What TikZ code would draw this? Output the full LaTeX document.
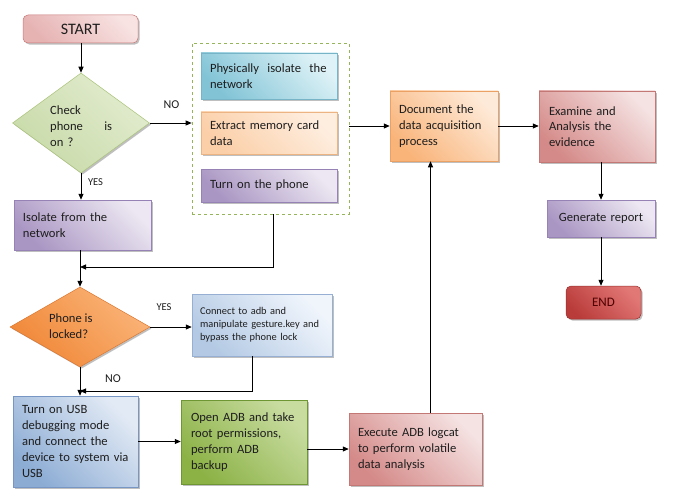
\documentclass[tikz,border=0pt]{standalone}
\usepackage{fontspec}
\setmainfont{Carlito}
\usetikzlibrary{shapes.geometric,arrows.meta,shadows}
\definecolor{txt}{RGB}{30,30,30}
\definecolor{startT}{RGB}{248,226,226}
\definecolor{startB}{RGB}{230,178,178}
\definecolor{startD}{RGB}{200,120,120}
\definecolor{grnT}{RGB}{226,236,207}
\definecolor{grnB}{RGB}{200,218,168}
\definecolor{grnD}{RGB}{170,195,120}
\definecolor{tealT}{RGB}{222,242,247}
\definecolor{tealB}{RGB}{130,196,214}
\definecolor{tealD}{RGB}{120,180,200}
\definecolor{orlT}{RGB}{254,238,224}
\definecolor{orlB}{RGB}{251,207,168}
\definecolor{orlD}{RGB}{235,180,130}
\definecolor{lavT}{RGB}{236,231,242}
\definecolor{lavB}{RGB}{170,150,195}
\definecolor{lavD}{RGB}{150,130,180}
\definecolor{docT}{RGB}{254,234,216}
\definecolor{docB}{RGB}{249,180,122}
\definecolor{docD}{RGB}{235,160,100}
\definecolor{pnkT}{RGB}{245,226,226}
\definecolor{pnkB}{RGB}{212,138,136}
\definecolor{pnkD}{RGB}{195,120,118}
\definecolor{endT}{RGB}{226,120,118}
\definecolor{endB}{RGB}{185,60,58}
\definecolor{endD}{RGB}{150,50,48}
\definecolor{orgT}{RGB}{250,180,120}
\definecolor{orgB}{RGB}{240,135,55}
\definecolor{orgD}{RGB}{220,120,50}
\definecolor{bluT}{RGB}{240,245,252}
\definecolor{bluB}{RGB}{180,202,228}
\definecolor{bluD}{RGB}{150,175,210}
\definecolor{usbT}{RGB}{226,234,245}
\definecolor{usbB}{RGB}{140,172,212}
\definecolor{usbD}{RGB}{120,150,195}
\definecolor{adbT}{RGB}{200,220,160}
\definecolor{adbB}{RGB}{140,178,70}
\definecolor{adbD}{RGB}{110,150,50}
\definecolor{dashc}{RGB}{150,180,90}
\begin{document}
\begin{tikzpicture}[x=1pt,y=-1pt,
  every node/.style={text=txt},
  grad/.style n args={3}{top color=#1, bottom color=#2, shading angle=-45, draw=#3},
  box/.style={rectangle, inner ysep=2pt, align=left, line width=0.5pt,
    font=\fontsize{12.6}{15.8}\selectfont,
    drop shadow={shadow xshift=1.6pt,shadow yshift=-1.6pt,fill=black!45,opacity=0.55}},
  dia/.style={diamond, inner sep=0pt, line width=0.5pt,
    drop shadow={shadow xshift=1.6pt,shadow yshift=-1.6pt,fill=black!45,opacity=0.55}},
  dtext/.style={inner sep=0pt, align=left, font=\fontsize{12.6}{15.8}\selectfont},
  lbl/.style={inner sep=0pt, font=\fontsize{12}{14}\selectfont},
  lbls/.style={inner sep=0pt, font=\fontsize{10.5}{12}\selectfont},
  conn/.style={line width=0.8pt, draw=black},
  arr/.style={conn, -{Triangle[length=6pt,width=5pt]}}
]
\useasboundingbox[fill=white] (0,0) rectangle (678,503);

% nodes
\node[box, grad={startT}{startB}{startD}, rounded corners=5pt, minimum width=115pt, minimum height=28pt,
  align=center, font=\fontsize{16}{18}\selectfont] (start) at (80.5,29) {START};
\node[dia, grad={grnT}{grnB}{grnD}, minimum width=137pt, minimum height=100pt] (d1) at (81,123) {};
\node[dtext, anchor=west, text width=62pt] (d1t) at (50,126) {Check\\phone\hfill is\\on ?};

\node[draw=dashc, dashed, line width=0.7pt, minimum width=157pt, minimum height=171pt, inner sep=0pt] (dbox) at (270.5,128.5) {};
\node[box, grad={tealT}{tealB}{tealD}, minimum width=136pt, minimum height=46pt, text width=118pt, inner xsep=9pt] (phys) at (269,76) {Physically\ \ isolate\ \ the\\network};
\node[box, grad={orlT}{orlB}{orlD}, minimum width=136pt, minimum height=42pt, text width=118pt, inner xsep=9pt] (extr) at (269,133) {Extract memory card\\data};
\node[box, grad={lavT}{lavB}{lavD}, minimum width=136pt, minimum height=33pt, text width=118pt, inner xsep=9pt] (turn) at (269,185.5) {Turn on the phone};

\node[box, grad={lavT}{lavB}{lavD}, minimum width=137pt, minimum height=50pt, text width=119pt, inner xsep=9pt] (iso) at (82.5,225) {Isolate from the\\network};

\node[dia, grad={orgT}{orgB}{orgD}, minimum width=140pt, minimum height=80pt] (d2) at (80,327) {};
\node[dtext, anchor=west] (d2t) at (49,326) {Phone is\\locked?};

\node[box, grad={bluT}{bluB}{bluD}, minimum width=140pt, minimum height=62pt, text width=124pt, inner xsep=8pt,
  font=\fontsize{10.4}{13}\selectfont] (cnx) at (262,325) {Connect to adb and\\manipulate gesture.key and\\bypass the phone lock};

\node[box, grad={usbT}{usbB}{usbD}, minimum width=125pt, minimum height=91pt, text width=107pt, inner xsep=9pt] (usb) at (75.5,441.5)
  {Turn on USB\\debugging mode\\and connect the\\device to system via\\USB};
\node[box, grad={adbT}{adbB}{adbD}, minimum width=126pt, minimum height=84pt, text width=106pt, inner xsep=10pt] (adb) at (244,442)
  {Open ADB and take\\root permissions,\\perform ADB\\backup};
\node[box, grad={pnkT}{pnkB}{pnkD}, minimum width=133pt, minimum height=72pt, text width=115pt, inner xsep=9pt] (exec) at (415.5,449)
  {Execute ADB logcat\\to perform volatile\\data analysis};

\node[box, grad={docT}{docB}{docD}, minimum width=108pt, minimum height=70pt, text width=90pt, inner xsep=9pt] (doc) at (444,126)
  {Document the\\data acquisition\\process};
\node[box, grad={pnkT}{pnkB}{pnkD}, minimum width=116pt, minimum height=71pt, text width=96pt, inner xsep=10pt] (exam) at (597,126.5)
  {Examine and\\Analysis the\\evidence};
\node[box, grad={lavT}{lavB}{lavD}, minimum width=108pt, minimum height=37pt, text width=90pt, inner xsep=9pt, align=center] (gen) at (601,218.5)
  {Generate report};
\node[box, grad={endT}{endB}{endD}, rounded corners=5pt, minimum width=75pt, minimum height=33pt, align=center,
  font=\fontsize{13}{15}\selectfont, text=black!70!red] (end) at (603.5,302.5) {END};

% labels
\node[lbl] (no1) at (171.5,105) {NO};
\node[lbls] (yes1) at (95.5,182) {YES};
\node[lbls] (yes2) at (164,307) {YES};
\node[lbl] (no2) at (113,379) {NO};

% junctions
\coordinate (j1) at (80,267);
\coordinate (j2) at (80,391);

% connectors
\draw[arr] (start.south -| d1.north) -- (d1.north);
\draw[arr] (d1.east) -- (d1.east -| dbox.west);
\draw[arr] (d1.south) -- (d1.south |- iso.north);
\draw[arr] (iso.south -| d2.north) -- (d2.north);
\draw[arr] ([xshift=3pt]dbox.south) |- (j1);
\draw[arr] (d2.east) -- (d2.east -| cnx.west);
\draw[arr] ([xshift=-10pt]cnx.south) |- (j2);
\draw[arr] (d2.south) -- (d2.south |- usb.north);
\draw[arr] (usb.east) -- (usb.east -| adb.west);
\draw[arr] (adb.east |- exec.west) -- (exec.west);
\draw[arr] ([xshift=15pt]exec.north) -- ([xshift=15pt]exec.north |- doc.south);
\draw[arr] (dbox.east |- doc.west) -- (doc.west);
\draw[arr] (doc.east) -- (doc.east -| exam.west);
\draw[arr] (gen.north |- exam.south) -- (gen.north);
\draw[arr] (gen.south) -- (gen.south |- end.north);
\end{tikzpicture}
\end{document}
